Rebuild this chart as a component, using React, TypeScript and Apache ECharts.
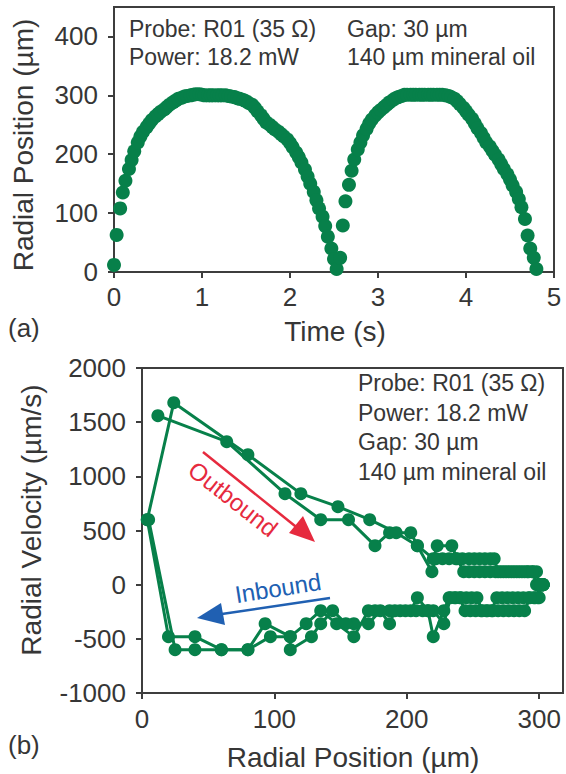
import React, { useEffect, useRef } from "react";
import * as echarts from "echarts";

// ---------- (a) Radial position vs time ----------
const timeS = [
  0.0, 0.03, 0.07, 0.1, 0.13, 0.17, 0.2, 0.23, 0.27, 0.3, 0.33, 0.37, 0.4, 0.43, 0.47, 0.5, 0.53, 0.57, 0.6, 0.63,
  0.67, 0.7, 0.73, 0.77, 0.8, 0.83, 0.87, 0.9, 0.93, 0.97, 1.0, 1.03, 1.07, 1.1, 1.13, 1.17, 1.2, 1.23, 1.27, 1.3,
  1.33, 1.37, 1.4, 1.43, 1.47, 1.5, 1.53, 1.57, 1.6, 1.63, 1.67, 1.7, 1.73, 1.77, 1.8, 1.83, 1.87, 1.9, 1.93, 1.97,
  2.0, 2.03, 2.07, 2.1, 2.13, 2.17, 2.2, 2.23, 2.27, 2.3, 2.33, 2.37, 2.4, 2.43, 2.47, 2.5, 2.53,
  2.57, 2.6, 2.63, 2.67, 2.7, 2.73, 2.77, 2.8, 2.83, 2.87, 2.9, 2.93, 2.97, 3.0, 3.03, 3.07, 3.1, 3.13, 3.17, 3.2,
  3.23, 3.27, 3.3, 3.33, 3.37, 3.4, 3.43, 3.47, 3.5, 3.53, 3.57, 3.6, 3.63, 3.67, 3.7, 3.73, 3.77, 3.8, 3.83, 3.87,
  3.9, 3.93, 3.97, 4.0, 4.03, 4.07, 4.1, 4.13, 4.17, 4.2, 4.23, 4.27, 4.3, 4.33, 4.37, 4.4, 4.43, 4.47, 4.5, 4.53,
  4.57, 4.6, 4.63, 4.67, 4.7, 4.73, 4.77, 4.8,
];
const positionUm = [
  12, 63, 108, 135, 155, 175, 190, 205, 220, 230, 238, 246, 252, 258, 264, 268, 272, 276, 280, 284,
  288, 291, 294, 296, 298, 299, 300, 301, 302, 302, 301, 300, 300, 300, 300, 300, 300, 300, 300, 299,
  298, 297, 295, 294, 292, 290, 287, 284, 279, 273, 266, 260, 254, 250, 246, 242, 238, 234, 230, 225,
  219, 212, 203, 195, 186, 174, 162, 150, 136, 122, 108, 94, 78, 60, 40, 22, 5,
  24, 79, 120, 148, 172, 191, 208, 220, 232, 243, 252, 259, 266, 271, 275, 280, 284, 288, 292, 295,
  297, 299, 301, 301, 301, 301, 301, 301, 301, 301, 301, 301, 301, 301, 301, 301, 300, 299, 297, 294,
  290, 285, 279, 273, 267, 260, 252, 244, 236, 228, 220, 213, 206, 199, 191, 183, 175, 166, 157, 147,
  136, 124, 110, 90, 62, 40, 24, 5,
];

// ---------- (b) Radial velocity vs radial position ----------
const cycle1Position = [
  12, 64, 108, 135, 156, 176, 187, 203, 208, 219, 222, 227, 232, 237, 242, 247, 251, 255, 259, 263, 266,
  269, 273, 277, 281, 285, 289, 292, 295, 298, 300, 301, 302, 303, 303, 302, 302, 301, 300, 299, 296,
  292, 288, 284, 280, 276, 272, 268, 264, 260, 256, 252, 248, 244, 240, 236, 232, 228, 220, 216, 208,
  203, 195, 187, 176, 171, 160, 147, 135, 124, 112, 93, 80, 60, 40, 25, 5,
];
const cycle1Velocity = [
  1560, 1320, 840, 600, 600, 360, 480, 480, 360, 120, 240, 240, 240, 240, 240, 240, 240, 240, 240, 240, 240,
  120, 120, 120, 120, 120, 120, 120, 120, 120, 0, 0, 0, 0, 0, 0, 0, 0, 0, -120, -120,
  -120, -120, -120, -120, -120, -120, -120, -240, -240, -240, -240, -240, -240, -120, -120, -120, -240, -480, -240, -120,
  -240, -240, -240, -240, -240, -480, -360, -240, -360, -480, -360, -600, -600, -600, -600, 600,
];
const cycle2Position = [
  4, 24, 80, 120, 148, 172, 192, 208, 220, 223, 234, 238, 243, 247, 251, 255, 259, 263, 267, 271, 275,
  279, 283, 287, 291, 295, 298, 300, 301, 302, 303, 303, 303, 302, 301, 300, 297, 293,
  289, 285, 281, 277, 273, 269, 265, 261, 257, 253, 249, 245, 241, 237, 233, 228, 220, 216, 212, 207,
  199, 191, 187, 180, 171, 160, 154, 144, 135, 128, 112, 112, 97, 80, 60, 40, 20, 4,
];
const cycle2Velocity = [
  600, 1680, 1200, 840, 720, 600, 480, 360, 240, 360, 360, 240, 120, 120, 120, 120, 120, 120, 120, 120, 120,
  120, 120, 120, 120, 120, 0, 0, 0, 0, 0, 0, 0, 0, 0, -120, -120, -120,
  -240, -240, -240, -240, -240, -240, -240, -240, -240, -120, -120, -120, -120, -120, -120, -360, -240, -240, -240, -240,
  -240, -240, -360, -240, -360, -360, -360, -240, -360, -480, -600, -480, -480, -600, -600, -480, -480, 600,
];

const timeTicks = [0, 1, 2, 3, 4, 5];
const positionTicks = [0, 100, 200, 300, 400];
const radialTicks = [0, 100, 200, 300];
const velocityTicks = [-1000, -500, 0, 500, 1000, 1500, 2000];

const annotationA = [
  ["Probe: R01 (35 Ω)", "Gap: 30 µm"],
  ["Power: 18.2 mW", "140 µm mineral oil"],
];
const annotationB = ["Probe: R01 (35 Ω)", "Power: 18.2 mW", "Gap: 30 µm", "140 µm mineral oil"];

const GREEN = "#07804a";
const AX = "#3d3d3d";
const TXT = "#363636";
const FONT = "Liberation Sans, Arial, sans-serif";
const RED = "#e62a3e";
const BLUE = "#2060b2";

function axisCommon(ticks: number[]) {
  return {
    axisLine: { show: true, onZero: false, lineStyle: { color: AX, width: 2 } },
    axisTick: { show: true, inside: false, length: 6, lineStyle: { color: AX, width: 2 }, customValues: ticks },
    axisLabel: {
      show: true,
      color: TXT,
      fontSize: 26,
      fontFamily: FONT,
      customValues: ticks,
      formatter: (v: number) => String(v),
    },
    splitLine: { show: false },
  };
}

export default function App() {
  const ref = useRef<HTMLDivElement>(null);
  useEffect(() => {
    if (!ref.current) return;
    const chart = echarts.init(ref.current, undefined, { renderer: "svg" });

    const topData = timeS.map((t, i) => [t, positionUm[i]]);
    const c1 = cycle1Position.map((p, i) => [p, cycle1Velocity[i]]);
    const c2 = cycle2Position.map((p, i) => [p, cycle2Velocity[i]]);

    const textEl = (text: string, x: number, y: number, fontSize: number, opts: any = {}) => ({
      type: "text",
      x,
      y,
      rotation: opts.rotation || 0,
      style: {
        text,
        x: 0,
        y: 0,
        fontSize,
        fontFamily: FONT,
        fill: opts.fill || TXT,
        align: opts.align || "left",
        verticalAlign: "middle",
      },
      z: 10,
    });

    const graphics: any[] = [];
    annotationA.forEach((row, i) => {
      graphics.push(textEl(row[0], 129, 29 + i * 28, 23));
      graphics.push(textEl(row[1], 347, 29 + i * 28, 23));
    });
    annotationB.forEach((line, i) => {
      graphics.push(textEl(line, 358, 383 + i * 29.7, 23));
    });
    graphics.push(textEl("Radial Position (µm)", 23, 145, 28, { rotation: Math.PI / 2, align: "center" }));
    graphics.push(textEl("Time (s)", 335, 331, 28, { align: "center" }));
    graphics.push(textEl("Radial Velocity (µm/s)", 31, 520, 28, { rotation: Math.PI / 2, align: "center" }));
    graphics.push(textEl("Radial Position (µm)", 353, 757, 28, { align: "center" }));
    graphics.push(textEl("(a)", 8, 328, 26));
    graphics.push(textEl("(b)", 8, 745, 26));
    graphics.push({
      type: "line",
      shape: { x1: 203, y1: 452, x2: 300, y2: 530 },
      style: { stroke: RED, lineWidth: 2.5 },
      z: 10,
    });
    graphics.push({
      type: "polygon",
      shape: { points: [[315, 542], [289, 533], [303, 516]] },
      style: { fill: RED },
      z: 10,
    });
    graphics.push(textEl("Outbound", 233, 499, 24, { rotation: -38 * Math.PI / 180, align: "center", fill: RED }));
    graphics.push({
      type: "line",
      shape: { x1: 330, y1: 598, x2: 215, y2: 615 },
      style: { stroke: BLUE, lineWidth: 2.5 },
      z: 10,
    });
    graphics.push({
      type: "polygon",
      shape: { points: [[197, 618], [225, 625], [221, 603]] },
      style: { fill: BLUE },
      z: 10,
    });
    graphics.push(textEl("Inbound", 278, 588, 24, { rotation: 9 * Math.PI / 180, align: "center", fill: BLUE }));

    const lineSeries = (data: number[][]) => ({
      type: "line",
      xAxisIndex: 1,
      yAxisIndex: 1,
      data,
      symbol: "circle",
      symbolSize: 13,
      showSymbol: true,
      showAllSymbol: true,
      lineStyle: { color: GREEN, width: 3 },
      itemStyle: { color: GREEN, opacity: 1 },
      clip: false,
      z: 3,
    });

    chart.setOption({
      animation: false,
      backgroundColor: "#ffffff",
      grid: [
        { left: 114, top: 7, width: 440, height: 265, show: true, borderColor: AX, borderWidth: 2, backgroundColor: "transparent" },
        { left: 142, top: 368, width: 421, height: 325, show: true, borderColor: AX, borderWidth: 2, backgroundColor: "transparent" },
      ],
      xAxis: [
        (() => {
          const c: any = axisCommon(timeTicks);
          return { ...c, type: "value", gridIndex: 0, min: 0, max: 5, interval: 1, axisLabel: { ...c.axisLabel, margin: 12 } };
        })(),
        (() => {
          const c: any = axisCommon(radialTicks);
          return { ...c, type: "value", gridIndex: 1, min: 0, max: 318, axisLabel: { ...c.axisLabel, margin: 13 } };
        })(),
      ],
      yAxis: [
        (() => {
          const c: any = axisCommon(positionTicks);
          return { ...c, type: "value", gridIndex: 0, min: 0, max: 450, axisLabel: { ...c.axisLabel, margin: 16 } };
        })(),
        (() => {
          const c: any = axisCommon(velocityTicks);
          return { ...c, type: "value", gridIndex: 1, min: -1000, max: 2000, interval: 500, axisLabel: { ...c.axisLabel, margin: 16 } };
        })(),
      ],
      series: [
        {
          type: "scatter",
          xAxisIndex: 0,
          yAxisIndex: 0,
          data: topData,
          symbol: "circle",
          symbolSize: 14,
          itemStyle: { color: GREEN, opacity: 1 },
          clip: false,
          z: 3,
        },
        lineSeries(c1),
        lineSeries(c2),
      ],
      graphic: graphics,
    });
    return () => chart.dispose();
  }, []);
  return (
    <div
      ref={ref}
      style={{ position: "fixed", left: 0, top: 0, width: 566, height: 774, background: "#fff" }}
    />
  );
}
